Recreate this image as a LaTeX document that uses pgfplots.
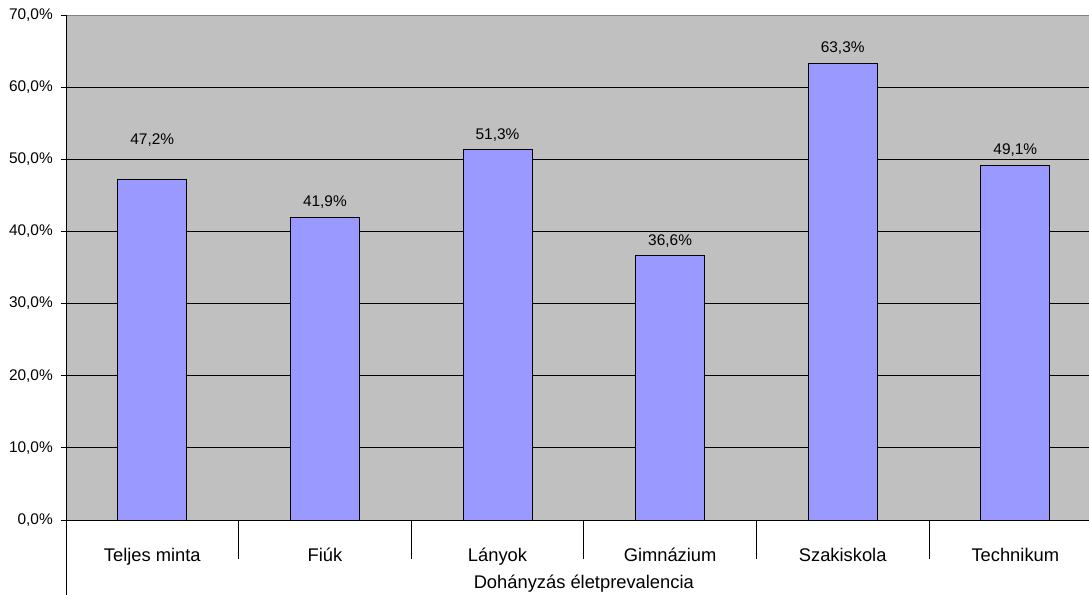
\documentclass[border=0pt]{standalone}
\usepackage{pgfplots}
\pgfplotsset{compat=1.18}
\usepackage{pgfplotstable}
\usepackage{fontspec}
\setmainfont{Liberation Sans}
\definecolor{plotbg}{HTML}{C0C0C0}
\definecolor{barfill}{HTML}{9999FF}
\definecolor{topline}{HTML}{808080}
\pgfplotstableread{
x y ly
0 47.2 52.1
1 41.9 43.4
2 51.3 52.8
3 36.6 38.1
4 63.3 64.8
5 49.1 50.6
}\datatable
\begin{document}
\begin{tikzpicture}
\useasboundingbox (-66bp,-75bp) rectangle (1023bp,520bp);
\begin{axis}[
 at={(0,0)}, anchor=south west,
 scale only axis, width=1023bp, height=505bp,
 xmin=-0.5, xmax=5.427, ymin=0, ymax=70,
 ytick={0,10,...,70},
 xtick={0,...,5},
 xticklabels={Teljes minta, Fiúk, Lányok, Gimnázium, Szakiskola, Technikum},
 axis x line*=bottom, axis y line*=left,
 axis line style={black, line width=0.8bp, -},
 ymajorgrids, grid style={black, line width=0.8bp},
 axis background/.style={fill=plotbg},
 tick align=outside, major tick length=5bp,
 x tick style={draw=none},
 y tick style={black, line width=0.8bp},
 /pgf/number format/assume math mode=true,
 yticklabel={\pgfmathprintnumber[fixed,fixed zerofill,precision=1,use comma]{\tick}\%},
 yticklabel style={font=\fontsize{15.5}{18}\selectfont, anchor=east, inner sep=0pt, xshift=-8bp},
 xticklabel style={font=\fontsize{18.4}{22}\selectfont, anchor=base, inner sep=0pt, yshift=-36bp},
 clip=false,
]
\addplot[ybar, bar width=69bp, bar shift=0pt, fill=barfill, draw=black, line width=1bp]
  table[x=x, y=y] {\datatable};
\addplot[draw=none, mark=none, point meta=explicit,
  nodes near coords={\pgfmathprintnumber[fixed,fixed zerofill,precision=1,use comma]{\pgfplotspointmeta}\%},
  every node near coord/.style={anchor=base, inner sep=0pt, font=\fontsize{15.5}{18}\selectfont, black}]
  table[x=x, y=ly, meta=y] {\datatable};
\draw[topline, line width=0.8bp] (rel axis cs:0,1) -- (rel axis cs:1,1);
\draw[black, line width=0.9bp] (rel axis cs:0,1) -- ([yshift=-75bp]rel axis cs:0,0);
\pgfplotsinvokeforeach{0.5,1.5,2.5,3.5,4.5}{
  \draw[black, line width=0.8bp] (axis cs:#1,0) -- ([yshift=-39bp]axis cs:#1,0);
}
\node[font=\fontsize{18.4}{22}\selectfont, anchor=base, inner sep=0pt] at (axis cs:2.5,0) [yshift=-68bp] {Dohányzás életprevalencia};
\end{axis}
\end{tikzpicture}
\end{document}
